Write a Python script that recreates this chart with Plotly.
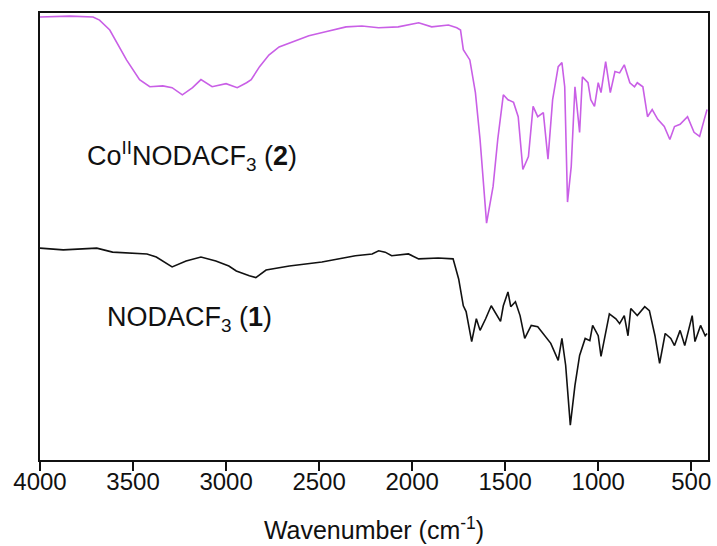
import plotly.graph_objects as go

# IR spectrum of Co(II)NODACF3 (2): wavenumber (cm-1) and transmittance (a.u.)
wn_co = [4000, 3840, 3715, 3680, 3625, 3535, 3465, 3410, 3340, 3290, 3235, 3180,
         3135, 3075, 3000, 2940, 2890, 2865, 2820, 2770, 2715, 2645, 2555, 2465,
         2355, 2270, 2180, 2075, 1965, 1895, 1805, 1760, 1740, 1725, 1690, 1660,
         1635, 1600, 1565, 1540, 1510, 1485, 1455, 1430, 1405, 1375, 1350, 1325,
         1295, 1270, 1245, 1215, 1195, 1180, 1165, 1145, 1125, 1100, 1085, 1055,
         1040, 1020, 1000, 985, 960, 935, 910, 885, 860, 830, 805, 790, 760, 735,
         710, 680, 645, 615, 590, 560, 520, 485, 455, 430, 415]
t_co = [99.1, 99.3, 99.1, 98.4, 96.2, 89.5, 85.1, 83.5, 83.7, 83.3, 81.7, 83.3,
        85.1, 83.5, 84.2, 83.3, 84.4, 85.1, 88.0, 90.6, 92.4, 93.5, 94.9, 95.8,
        96.9, 97.1, 96.7, 96.9, 97.8, 96.9, 97.3, 96.7, 96.2, 91.8, 89.5, 82.2,
        71.7, 53.0, 61.2, 71.7, 81.7, 80.6, 80.0, 76.8, 65.0, 67.9, 79.1, 76.8,
        77.7, 67.3, 80.6, 88.0, 88.9, 83.5, 57.7, 65.7, 83.5, 73.3, 85.7, 84.4,
        80.6, 79.1, 84.4, 82.2, 89.1, 82.2, 86.9, 86.6, 88.4, 84.4, 83.5, 84.4,
        83.5, 76.8, 78.4, 76.2, 74.6, 71.7, 74.6, 75.1, 76.8, 73.3, 72.4, 76.2, 78.4]

# IR spectrum of the free ligand NODACF3 (1)
wn_lig = [4000, 3875, 3695, 3610, 3425, 3375, 3290, 3215, 3135, 3055, 2985, 2945,
          2875, 2840, 2785, 2660, 2485, 2305, 2215, 2180, 2145, 2110, 2020, 1965,
          1860, 1780, 1750, 1725, 1710, 1680, 1655, 1635, 1605, 1575, 1525, 1510,
          1485, 1470, 1445, 1420, 1395, 1360, 1325, 1285, 1255, 1215, 1195, 1175,
          1150, 1125, 1100, 1070, 1045, 1030, 1000, 985, 965, 940, 905, 885, 860,
          840, 825, 790, 750, 725, 695, 670, 640, 610, 590, 560, 535, 510, 495,
          480, 450, 425, 415]
t_lig = [47.4, 47.0, 47.4, 46.5, 46.1, 45.4, 43.2, 44.5, 45.4, 44.5, 43.4, 42.3,
         41.2, 40.8, 42.5, 43.4, 44.3, 45.7, 46.1, 46.8, 46.5, 45.7, 46.1, 45.0,
         45.2, 45.0, 40.5, 34.5, 33.2, 26.5, 31.6, 29.0, 31.6, 34.5, 31.0, 34.5,
         37.6, 34.3, 35.4, 32.3, 27.2, 30.1, 29.8, 27.6, 26.1, 22.3, 27.2, 21.2,
         7.8, 16.7, 23.4, 27.2, 26.7, 30.1, 27.8, 23.2, 27.8, 32.7, 31.6, 30.5,
         32.3, 27.8, 33.9, 32.3, 34.3, 33.4, 27.8, 21.6, 28.3, 27.2, 25.6, 29.0,
         25.6, 30.1, 32.3, 26.5, 30.1, 27.8, 28.3]

tick_vals = [4000, 3500, 3000, 2500, 2000, 1500, 1000, 500]
labels = ["Co<sup>II</sup>NODACF<sub>3</sub> (<b>2</b>)",
          "NODACF<sub>3</sub> (<b>1</b>)"]
label_wn = [3760, 3650]
label_t = [67.9, 31.6]

font_family = "Liberation Sans, Arial, Helvetica, sans-serif"

fig = go.Figure()
fig.add_trace(go.Scatter(x=wn_co, y=t_co, mode="lines",
                         line=dict(color="#c95fe6", width=1.6), showlegend=False))
fig.add_trace(go.Scatter(x=wn_lig, y=t_lig, mode="lines",
                         line=dict(color="#111111", width=1.6), showlegend=False))

for txt, xv, yv in zip(labels, label_wn, label_t):
    fig.add_annotation(x=xv, y=yv, text=txt, showarrow=False, xanchor="left",
                       yanchor="middle", font=dict(size=27, color="#111111",
                                                   family=font_family))

fig.update_xaxes(range=[4000, 410], tickvals=tick_vals,
                 ticks="outside", ticklen=9, tickwidth=2, tickcolor="#111111",
                 ticklabelstandoff=-10,
                 showline=True, linewidth=2, linecolor="#111111", mirror=True,
                 showgrid=False, zeroline=False,
                 tickfont=dict(size=24, color="#111111", family=font_family),
                 title=dict(text="Wavenumber (cm<sup>-1</sup>)",
                            font=dict(size=25, color="#111111", family=font_family),
                            standoff=28))
fig.update_yaxes(range=[0, 100], showticklabels=False, ticks="",
                 showline=True, linewidth=2, linecolor="#111111", mirror=True,
                 showgrid=False, zeroline=False)

fig.update_layout(width=717, height=546, margin=dict(l=40, r=6, t=13, b=84),
                  plot_bgcolor="white", paper_bgcolor="white")

fig.write_html("out.html")
